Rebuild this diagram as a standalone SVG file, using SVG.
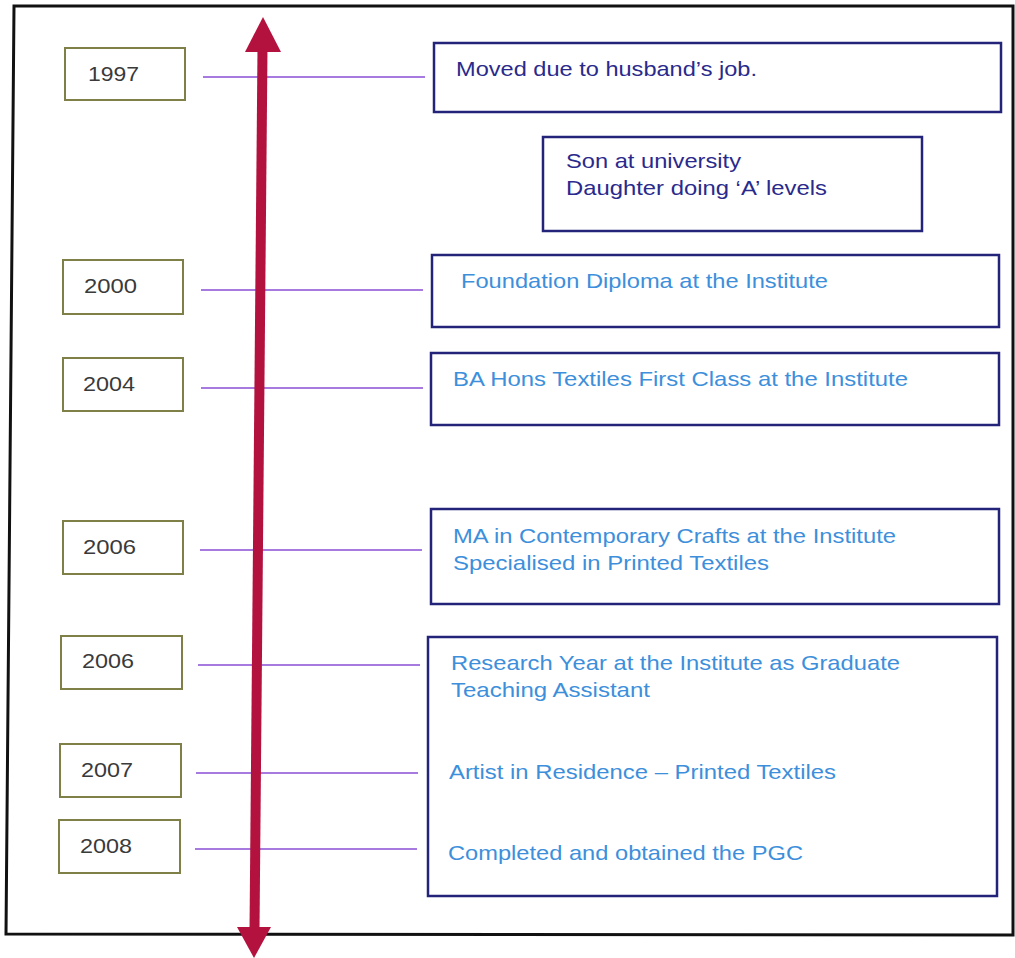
<svg xmlns="http://www.w3.org/2000/svg" width="1015" height="958" viewBox="0 0 1015 958">
  <style>
    .frame { fill: #ffffff; stroke: #111111; stroke-width: 3; }
    .year rect { fill: #ffffff; stroke: #7f8048; stroke-width: 2; }
    .year text { font-family: "Liberation Sans", Arial, sans-serif; font-size: 21px; fill: #3a3a3a; }
    .event rect { fill: #ffffff; stroke: #23237a; stroke-width: 2.5; }
    .event text { font-family: "Liberation Sans", Arial, sans-serif; font-size: 21px; }
    .dark { fill: #2a2a8c; }
    .light { fill: #3d8fdb; }
    .tick { stroke: #a77ae0; stroke-width: 2; fill: none; }
    .axis { stroke: #b3123e; stroke-width: 10; fill: none; }
    .head { fill: #b3123e; }
  </style>

  <!-- outer frame -->
  <polygon class="frame" points="14,6 1013,6 1013,935 6,934"/>

  <!-- year labels -->
  <g id="y1997" class="year"><rect x="65" y="48" width="120" height="52"/><text x="88" y="81" textLength="51" lengthAdjust="spacingAndGlyphs">1997</text></g>
  <g id="y2000" class="year"><rect x="63" y="260" width="120" height="54"/><text x="84" y="293" textLength="53" lengthAdjust="spacingAndGlyphs">2000</text></g>
  <g id="y2004" class="year"><rect x="63" y="358" width="120" height="53"/><text x="83" y="391" textLength="52" lengthAdjust="spacingAndGlyphs">2004</text></g>
  <g id="y2006a" class="year"><rect x="63" y="521" width="120" height="53"/><text x="83" y="554" textLength="53" lengthAdjust="spacingAndGlyphs">2006</text></g>
  <g id="y2006b" class="year"><rect x="61" y="636" width="121" height="53"/><text x="82" y="668" textLength="52" lengthAdjust="spacingAndGlyphs">2006</text></g>
  <g id="y2007" class="year"><rect x="60" y="744" width="121" height="53"/><text x="81" y="777" textLength="52" lengthAdjust="spacingAndGlyphs">2007</text></g>
  <g id="y2008" class="year"><rect x="59" y="820" width="121" height="53"/><text x="80" y="853" textLength="52" lengthAdjust="spacingAndGlyphs">2008</text></g>

  <!-- events -->
  <g id="moved" class="event"><rect x="434" y="43" width="567" height="69"/>
    <text class="dark" x="456" y="76" textLength="301" lengthAdjust="spacingAndGlyphs">Moved due to husband’s job.</text></g>
  <g id="family" class="event"><rect x="543" y="137" width="379" height="94"/>
    <text class="dark" x="566" y="168" textLength="175" lengthAdjust="spacingAndGlyphs">Son at university</text>
    <text class="dark" x="566" y="195" textLength="261" lengthAdjust="spacingAndGlyphs">Daughter doing ‘A’ levels</text></g>
  <g id="foundation" class="event"><rect x="432" y="255" width="567" height="72"/>
    <text class="light" x="461" y="288" textLength="367" lengthAdjust="spacingAndGlyphs">Foundation Diploma at the Institute</text></g>
  <g id="ba" class="event"><rect x="431" y="353" width="568" height="72"/>
    <text class="light" x="453" y="386" textLength="455" lengthAdjust="spacingAndGlyphs">BA Hons Textiles First Class at the Institute</text></g>
  <g id="ma" class="event"><rect x="431" y="509" width="568" height="95"/>
    <text class="light" x="453" y="543" textLength="443" lengthAdjust="spacingAndGlyphs">MA in Contemporary Crafts at the Institute</text>
    <text class="light" x="453" y="570" textLength="316" lengthAdjust="spacingAndGlyphs">Specialised in Printed Textiles</text></g>
  <g id="research" class="event"><rect x="428" y="637" width="569" height="259"/>
    <text class="light" x="451" y="670" textLength="449" lengthAdjust="spacingAndGlyphs">Research Year at the Institute as Graduate</text>
    <text class="light" x="451" y="697" textLength="199" lengthAdjust="spacingAndGlyphs">Teaching Assistant</text>
    <text class="light" x="449" y="779" textLength="387" lengthAdjust="spacingAndGlyphs">Artist in Residence – Printed Textiles</text>
    <text class="light" x="448" y="860" textLength="355" lengthAdjust="spacingAndGlyphs">Completed and obtained the PGC</text></g>

  <!-- connectors -->
  <g id="connectors">
    <line class="tick" x1="203" y1="77" x2="425" y2="77"/>
    <line class="tick" x1="201" y1="290" x2="423" y2="290"/>
    <line class="tick" x1="201" y1="388" x2="423" y2="388"/>
    <line class="tick" x1="200" y1="550" x2="422" y2="550"/>
    <line class="tick" x1="198" y1="665" x2="420" y2="665"/>
    <line class="tick" x1="196" y1="773" x2="418" y2="773"/>
    <line class="tick" x1="195" y1="849" x2="417" y2="849"/>
    <!-- time axis with arrowheads at both ends -->
    <line class="axis" x1="262.5" y1="48" x2="254.5" y2="930"/>
    <polygon class="head" points="263,17 281,52 245,52"/>
    <polygon class="head" points="254,958 271,927 237,927"/>
  </g>
</svg>
